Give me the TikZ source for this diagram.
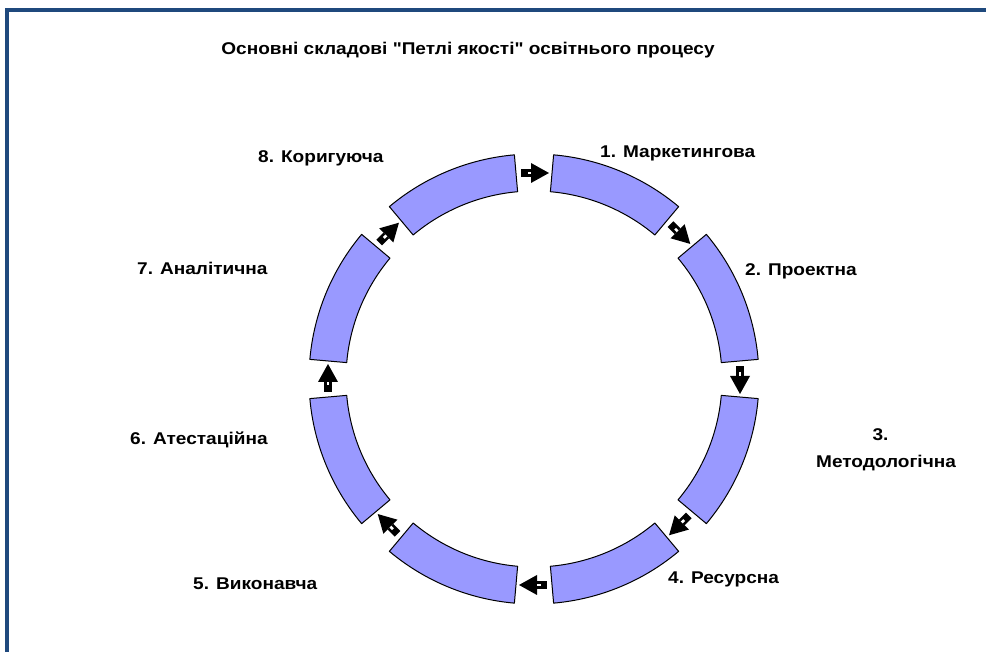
\documentclass[tikz,border=0pt]{standalone}
\usepackage{fontspec}
\newfontfamily\mainf{Liberation Sans}[FakeStretch=1.12]
\definecolor{segfill}{RGB}{153,153,255}
\definecolor{framec}{RGB}{31,73,125}
\begin{document}
\begin{tikzpicture}[x=1pt,y=1pt,
  seg/.style={draw=black, line width=1pt, fill=segfill, line join=round},
  lbl/.style={font=\mainf\bfseries\fontsize{17}{20}\selectfont, anchor=base west, inner sep=0pt},
  lblc/.style={font=\mainf\bfseries\fontsize{17}{20}\selectfont, anchor=base, inner sep=0pt},
  blockarrow/.style={fill=black}
]
\useasboundingbox (0,0) rectangle (986,652);
\fill[white] (0,0) rectangle (986,652);
\draw[framec, line width=4pt] (7,0) -- (7,642) -- (986,642);
\coordinate (c) at (534,273);
% ring segments
\foreach \a in {90,45,0,-45,-90,-135,-180,-225} {
  \pgfmathsetmacro{\sa}{\a-5}
  \pgfmathsetmacro{\ea}{\a-40}
  \draw[seg] ([shift={(\sa:225)}]c) arc[start angle=\sa, end angle=\ea, radius=225]
     -- ([shift={(\ea:188)}]c) arc[start angle=\ea, end angle=\sa, radius=188] -- cycle;
}
% block arrows in the gaps
\foreach \a in {90,45,0,-45,-90,-135,-180,-225} {
  \begin{scope}[shift={(c)}, rotate=\a, shift={(206,0)}, rotate=-90]
    \fill[blockarrow] (-13,-4) rectangle (-3,4);
    \fill[blockarrow] (-3,-10) -- (15,0) -- (-3,10) -- cycle;
    \fill[white] (-6.5,-1.3) rectangle (-3,1.3);
  \end{scope}
}
% labels
\node[lblc] (title) at (468,597) {Основні складові "Петлі якості" освітнього процесу};
\node[lbl] (l1) at (600,494) {1. Маркетингова};
\node[lbl] (l2) at (745,376) {2. Проектна};
\node[lblc] (l3a) at (880.5,211) {3.};
\node[lblc] (l3b) at (886,184) {Методологічна};
\node[lbl] (l4) at (668,68) {4. Ресурсна};
\node[lbl] (l5) at (193,62) {5. Виконавча};
\node[lbl] (l6) at (130,207) {6. Атестаційна};
\node[lbl] (l7) at (137,377) {7. Аналітична};
\node[lbl] (l8) at (258,489) {8. Коригуюча};
\end{tikzpicture}
\end{document}
